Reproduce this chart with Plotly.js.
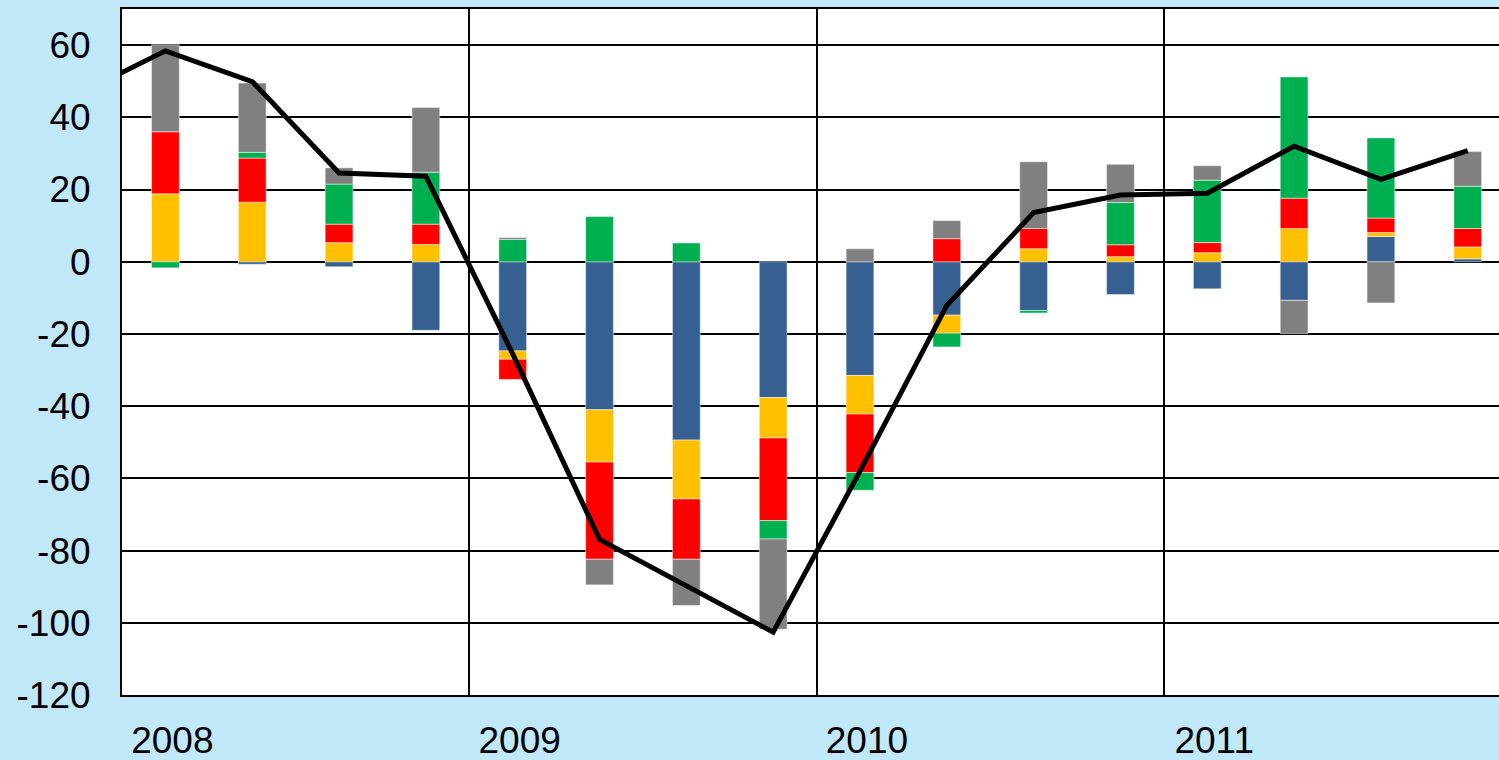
<!DOCTYPE html>
<html>
<head>
<meta charset="utf-8">
<script src="https://cdn.plot.ly/plotly-3.0.1.min.js"></script>
<style>
html, body { margin: 0; padding: 0; background: #c0e8f9; }
#chart { width: 1499px; height: 760px; }
</style>
</head>
<body>
<div id="chart"></div>
<script>
// Quarterly categories (2008 Q1 .. 2011 Q4)
const quarters = ['2008 Q1','2008 Q2','2008 Q3','2008 Q4',
                  '2009 Q1','2009 Q2','2009 Q3','2009 Q4',
                  '2010 Q1','2010 Q2','2010 Q3','2010 Q4',
                  '2011 Q1','2011 Q2','2011 Q3','2011 Q4'];
const yearLabels = ['2008', '2009', '2010', '2011'];

// Stacked contributions
const blueVals   = [0, -0.7, -1.4, -19.0, -24.7, -41.0, -49.4, -37.6, -31.5, -14.8, -13.5, -9.1, -7.5, -10.7, 7.0, 0.8];
const yellowVals = [18.8, 16.5, 5.3, 4.8, -2.3, -14.5, -16.3, -11.2, -10.7, -5.0, 3.6, 1.4, 2.5, 9.2, 1.1, 3.3];
const redVals    = [17.2, 12.2, 5.1, 5.6, -5.6, -26.9, -16.7, -22.9, -16.2, 6.4, 5.6, 3.3, 2.8, 8.4, 4.0, 5.1];
const greenVals  = [-1.7, 1.6, 11.1, 14.4, 6.2, 12.5, 5.2, -5.1, -4.9, -3.8, -0.7, 11.7, 17.3, 33.6, 22.2, 11.7];
const grayVals   = [24.1, 19.2, 4.5, 17.9, 0.5, -7.1, -12.8, -25.0, 3.6, 5.0, 18.5, 10.6, 4.0, -9.2, -11.4, 9.6];

// Total line (previous quarter 2007 Q4 lies just left of the visible area)
const totalPrev = 46.4;
const totalVals = [58.4, 49.9, 24.6, 23.7, -25.5, -76.9, -89.6, -102.6, -58.0, -12.1, 13.6, 18.5, 19.0, 32.0, 22.8, 30.8];

const yTicks = [-120, -100, -80, -60, -40, -20, 0, 20, 40, 60];
const yTickText = ['-120', '-100', '-80', '-60', '-40', '-20', '0', '20', '40', '60'];

const xIdx = quarters.map((q, i) => i);
const barW = 0.32;

function barTrace(name, vals, color) {
  return {
    type: 'bar', name: name, x: xIdx, y: vals, width: barW,
    marker: { color: color, line: { width: 0.8, color: 'rgba(255,255,255,0.6)' } },
    hoverinfo: 'y'
  };
}

const data = [
  barTrace('blue', blueVals, '#376092'),
  barTrace('yellow', yellowVals, '#FFC000'),
  barTrace('red', redVals, '#FF0000'),
  barTrace('green', greenVals, '#00B050'),
  barTrace('gray', grayVals, '#808080'),
  {
    type: 'scatter', mode: 'lines', name: 'total',
    x: [-1].concat(xIdx), y: [totalPrev].concat(totalVals),
    line: { color: '#000000', width: 5 }
  }
];

const yearStarts = yearLabels.map((y, i) => i * 4 - 0.5);

const layout = {
  width: 1499, height: 760,
  margin: { l: 122, r: 0, t: 9, b: 65, pad: 0 },
  paper_bgcolor: '#c0e8f9',
  plot_bgcolor: '#ffffff',
  barmode: 'relative',
  showlegend: false,
  font: { family: 'Liberation Sans, Arial, sans-serif', size: 37, color: '#000000' },
  xaxis: {
    range: [-0.5, 15.36],
    tickmode: 'array',
    tickvals: yearStarts.map(v => v + 0.58),
    ticktext: yearLabels,
    showgrid: false, zeroline: false,
    showline: true, linecolor: '#000000', linewidth: 2, mirror: true,
    ticks: '', ticklabelstandoff: 12,
    minor: {
      tickmode: 'array', tickvals: yearStarts.slice(1),
      showgrid: true, gridcolor: '#000000', gridwidth: 2, ticks: ''
    }
  },
  yaxis: {
    range: [-120, 70],
    tickmode: 'array', tickvals: yTicks, ticktext: yTickText,
    showgrid: true, gridcolor: '#000000', gridwidth: 2,
    zeroline: false,
    showline: true, linecolor: '#000000', linewidth: 2,
    ticks: '', ticklabelstandoff: 22
  }
};

Plotly.newPlot('chart', data, layout, { displayModeBar: false, staticPlot: true });
</script>
</body>
</html>
